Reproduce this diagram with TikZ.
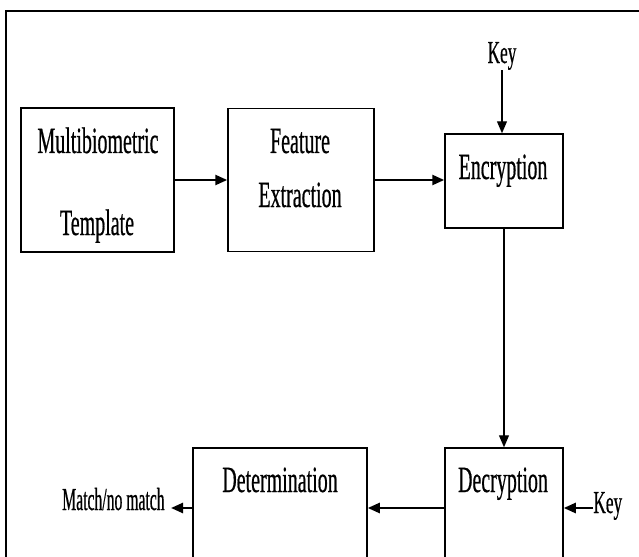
\documentclass[tikz,border=0pt]{standalone}
\usepackage{fontspec}
\setmainfont{Liberation Serif}[FakeStretch=0.54,FakeBold=0.5]
\newfontfamily\narrowfont{Liberation Serif}[FakeStretch=0.49,FakeBold=0.5]
\usetikzlibrary{arrows.meta}

\begin{document}
\begin{tikzpicture}[x=0.5pt,y=-0.5pt,
    >={Triangle[length=6pt,width=5pt]},
    block/.style={draw, line width=0.75pt, inner sep=0pt},
    txt/.style={inner sep=0pt, anchor=base, font=\fontsize{18.5}{20}\selectfont},
    lbl/.style={inner sep=0pt, font=\fontsize{16}{18}\selectfont},
    thick arrow/.style={->, line width=1.2pt},
    thin arrow/.style={->, line width=0.65pt}]
	\useasboundingbox (0,0) rectangle (639,557);
	\clip (0,0) rectangle (639,557);
	% outer frame
	\draw[line width=1.4pt] (6,570) -- (6,11) -- (650,11);
	% boxes
	\node[block, minimum width=76.5pt, minimum height=72pt] (tmpl) at (97.5,180) {};
	\node[block, minimum width=73pt, minimum height=71.5pt] (feat) at (301,180) {};
	\node[block, minimum width=59pt, minimum height=47pt] (enc) at (504,181) {};
	\node[block, minimum width=59pt, minimum height=86pt] (dec) at (504,534) {};
	\node[block, minimum width=87pt, minimum height=86pt] (det) at (280,534) {};
	% box texts
	\node[txt] (tmpla) at (98,153) {Multibiometric};
	\node[txt] (tmplb) at (97,235) {Template};
	\node[txt] (feata) at (300,153) {Feature};
	\node[txt] (featb) at (300,207) {Extraction};
	\node[txt] (enctxt) at (503,179) {Encryption};
	\node[txt] (dectxt) at (503,492) {Decryption};
	\node[txt] (dettxt) at (280,492) {Determination};
	% outside labels
	\node[lbl, anchor=base] (keyenc) at (502,63) {Key};
	\node[lbl, anchor=base west] (keydec) at (593,513) {Key};
	\node[lbl, anchor=base east, font=\narrowfont\fontsize{16}{18}\selectfont] (match) at (165,510) {Match/no match};
	\coordinate (row) at (0,508);
	% connectors
	\draw[thick arrow] (tmpl) -- (feat);
	\draw[thick arrow] (feat.east) -- (feat.east -| enc.west);
	\draw[thin arrow] (keyenc.south) -- (keyenc.south |- enc.north);
	\draw[thin arrow] (enc.south) -- (dec.north);
	\draw[thick arrow] (dec.west |- row) -- (det.east |- row);
	\draw[thick arrow] (keydec.west |- row) -- (dec.east |- row);
	\draw[thick arrow, shorten >=3pt] (det.west |- row) -- (match.east |- row);
\end{tikzpicture}
\end{document}
